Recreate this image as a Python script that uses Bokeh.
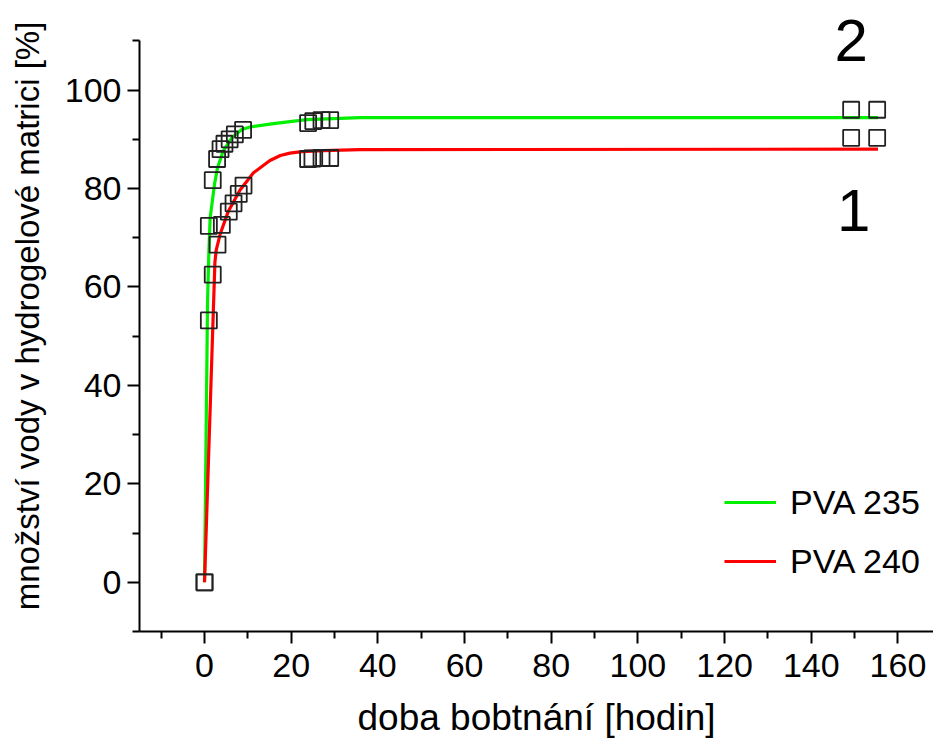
from bokeh.plotting import figure
from bokeh.models import Range1d, FixedTicker, Legend, LegendItem, Label
from bokeh.embed import file_html
from bokeh.resources import INLINE

# measured points (open squares)
pva235_x = [0, 1.0, 1.9, 2.9, 3.7, 4.6, 5.8, 7.0, 8.9, 23.9, 25.1, 27.0, 29.0, 149.2, 155.2]
pva235_y = [0, 72.4, 81.7, 86.0, 88.0, 89.1, 90.0, 91.0, 91.9, 93.3, 93.7, 93.9, 93.9, 96.0, 96.0]
pva240_x = [0, 1.0, 1.9, 3.0, 4.0, 5.6, 6.7, 7.9, 9.0, 23.9, 24.9, 27.0, 29.0, 149.2, 155.2]
pva240_y = [0, 53.2, 62.5, 68.6, 72.6, 75.3, 77.0, 78.9, 80.6, 86.0, 86.1, 86.2, 86.2, 90.3, 90.3]

# fitted curves
fit235_x = [0, 0.7, 1.0, 1.3, 2.3, 3.0, 4.3, 6.3, 8.6, 10.5, 15.9, 23.6, 35.9, 155.4]
fit235_y = [0, 57, 67, 74, 80.8, 84.2, 87.6, 90.3, 92.0, 92.5, 93.2, 94.0, 94.4, 94.4]
fit240_x = [0, 2.4, 2.7, 3.6, 5.5, 8.2, 11.3, 15.1, 17.5, 19.7, 22.5, 27.4, 35.9, 155.4]
fit240_y = [0, 65, 67.5, 70.7, 75.4, 79.7, 83.2, 85.7, 86.7, 87.2, 87.5, 87.7, 87.9, 88.0]

x_major = [0, 20, 40, 60, 80, 100, 120, 140, 160]
x_minor = [-10, 10, 30, 50, 70, 90, 110, 130, 150]
y_major = [0, 20, 40, 60, 80, 100]
y_minor = [-10, 10, 30, 50, 70, 90, 110]

series_names = ["PVA 235", "PVA 240"]
curve_labels = ["2", "1"]
curve_label_x = [149.2, 149.8]
curve_label_y = [110.0, 75.5]

FONT = "Liberation Sans"

p = figure(width=933, height=742, x_range=Range1d(-15, 168.2), y_range=Range1d(-10, 118.2),
           output_backend="svg", toolbar_location=None,
           min_border_left=139, min_border_right=0, min_border_top=0, min_border_bottom=111)
p.outline_line_color = None
p.xgrid.visible = False
p.ygrid.visible = False
p.background_fill_color = "white"
p.border_fill_color = "white"

p.xaxis.ticker = FixedTicker(ticks=x_major, minor_ticks=x_minor)
p.yaxis.ticker = FixedTicker(ticks=y_major, minor_ticks=y_minor)
p.yaxis.bounds = (-10, 110)

for ax in (p.xaxis[0], p.yaxis[0]):
    ax.axis_line_width = 2
    ax.axis_line_color = "black"
    ax.major_tick_line_width = 2
    ax.minor_tick_line_width = 2
    ax.major_tick_line_color = "black"
    ax.minor_tick_line_color = "black"
    ax.major_tick_out = 12
    ax.major_tick_in = 0
    ax.minor_tick_out = 7
    ax.minor_tick_in = 0
    ax.major_label_text_font = FONT
    ax.major_label_text_font_size = "34px"
    ax.major_label_text_color = "black"
    ax.axis_label_text_font = FONT
    ax.axis_label_text_font_style = "normal"
    ax.axis_label_text_color = "black"

p.xaxis.axis_label = "doba bobtnání [hodin]"
p.yaxis.axis_label = "množství vody v hydrogelové matrici [%]"
p.xaxis.axis_label_text_font_size = "37px"
p.yaxis.axis_label_text_font_size = "33px"
p.xaxis.major_label_standoff = 10
p.yaxis.major_label_standoff = 6
p.xaxis.axis_label_standoff = 17
p.yaxis.axis_label_standoff = 16

g1 = p.line(fit235_x, fit235_y, line_color="#00f000", line_width=3.2)
g2 = p.line(fit240_x, fit240_y, line_color="#ff0000", line_width=3.2)

p.scatter(pva235_x, pva235_y, marker="square", size=16, fill_color=None,
          line_color="#222222", line_width=1.8)
p.scatter(pva240_x, pva240_y, marker="square", size=16, fill_color=None,
          line_color="#222222", line_width=1.8)

legend = Legend(items=[LegendItem(label=series_names[0], renderers=[g1]),
                       LegendItem(label=series_names[1], renderers=[g2])],
                location=(585, 50), orientation="vertical")
legend.border_line_color = None
legend.background_fill_alpha = 0
legend.padding = 0
legend.margin = 0
legend.spacing = 19
legend.glyph_width = 52
legend.glyph_height = 40
legend.label_height = 40
legend.label_standoff = 14
legend.label_text_font = FONT
legend.label_text_font_size = "34px"
legend.label_text_color = "black"
p.add_layout(legend, "center")

for t, lx, ly in zip(curve_labels, curve_label_x, curve_label_y):
    p.add_layout(Label(x=lx, y=ly, text=t, text_font=FONT, text_font_size="60px",
                       text_align="center", text_baseline="middle", text_color="black"))

open("out.html", "w").write(file_html(p, INLINE))
